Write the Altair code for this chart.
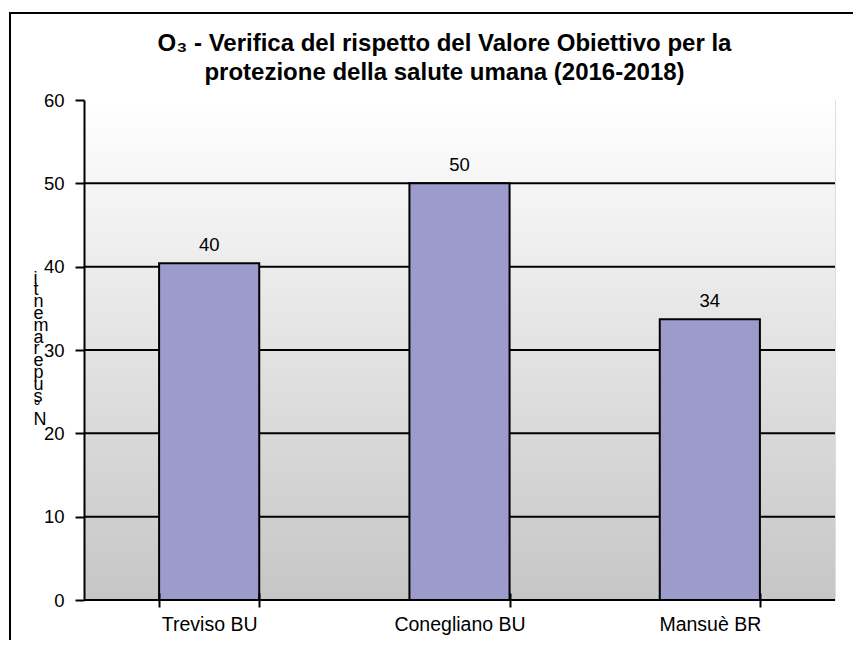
import altair as alt
import pandas as pd

# ---- data ----
stations = ["Treviso BU", "Conegliano BU", "Mansuè BR"]
exceedances = [40.4, 50.0, 33.7]
y_ticks = [0, 10, 20, 30, 40, 50, 60]
grid_values = [0, 10, 20, 30, 40, 50]
title_lines = [
    "O₃ - Verifica del rispetto del Valore Obiettivo per la",
    "protezione della salute umana (2016-2018)",
]
y_title = "N° superamenti"

df = pd.DataFrame({"stazione": stations, "n": exceedances})
grid_df = pd.DataFrame({"v": grid_values})

W, H = 751, 500
FONT = "Liberation Sans"

# stacked (one character per line, read bottom-to-top) axis title, as in the original
stacked_title = list(reversed(list(y_title)))

y_scale = alt.Scale(domain=[0, 60], nice=False)

x_enc = alt.X(
    "stazione:N",
    sort=stations,
    title=None,
    scale=alt.Scale(paddingInner=0.6, paddingOuter=0.3),
    axis=alt.Axis(
        labelAngle=0,
        labelFont=FONT,
        labelFontSize=19.5,
        labelColor="black",
        labelBaseline="alphabetic",
        labelPadding=23,
        domain=False,
        ticks=True,
        tickBand="extent",
        tickColor="black",
        tickWidth=2,
        tickSize=14,
        offset=-7,
        grid=False,
        zindex=1,
    ),
)

y_enc = alt.Y(
    "n:Q",
    scale=y_scale,
    axis=alt.Axis(
        values=y_ticks,
        grid=False,
        domainColor="black",
        domainWidth=2,
        tickColor="black",
        tickWidth=2,
        tickSize=9,
        labelFont=FONT,
        labelFontSize=18.5,
        labelColor="black",
        labelPadding=11,
        title=stacked_title,
        titleAngle=0,
        titleAlign="left",
        titleBaseline="alphabetic",
        titleX=-51,
        titleY=183,
        titleFont=FONT,
        titleFontSize=18,
        titleFontWeight="normal",
        titleColor="black",
        titleLineHeight=11.8,
        zindex=1,
    ),
)

background = alt.Chart(pd.DataFrame({"k": [0]})).mark_rect(
    color=alt.LinearGradient(
        gradient="linear",
        x1=0, x2=0, y1=0, y2=1,
        stops=[
            alt.GradientStop(color="#ffffff", offset=0),
            alt.GradientStop(color="#c6c6c6", offset=1),
        ],
    )
).encode(x=alt.value(0), x2=alt.value(W), y=alt.value(0), y2=alt.value(H))

gridlines = alt.Chart(grid_df).mark_rule(color="black", strokeWidth=2).encode(
    y=alt.Y("v:Q", scale=y_scale)
)

bars = alt.Chart(df).mark_bar(
    color="#9D9BCC", stroke="black", strokeWidth=2
).encode(x=x_enc, y=y_enc)

labels = alt.Chart(df).mark_text(
    dy=-12, baseline="alphabetic", font=FONT, fontSize=18.5, color="black"
).encode(
    x=alt.X("stazione:N", sort=stations),
    y=alt.Y("n:Q"),
    text=alt.Text("n:Q", format=".0f"),
)

frame = alt.Chart(pd.DataFrame({"k": [0]})).mark_rect(
    fill="transparent", stroke="black", strokeWidth=2
).encode(
    x=alt.value(-74), x2=alt.value(1000), y=alt.value(-87), y2=alt.value(900)
)

chart = alt.layer(background, gridlines, bars, labels, frame).properties(
    width=W,
    height=H,
    autosize=alt.AutoSizeParams(type="none"),
    padding={"left": 76, "top": 92, "right": 18, "bottom": 40},
    title=alt.TitleParams(
        text=title_lines,
        font=FONT,
        fontSize=24,
        fontWeight="bold",
        color="black",
        anchor="middle",
        dx=-15,
        dy=78,
        lineHeight=28.7,
        offset=5,
    ),
).configure_view(
    stroke="#808080", strokeWidth=2
).configure(background="white")

chart.save("out.html", embed_options={"renderer": "svg", "actions": False})
